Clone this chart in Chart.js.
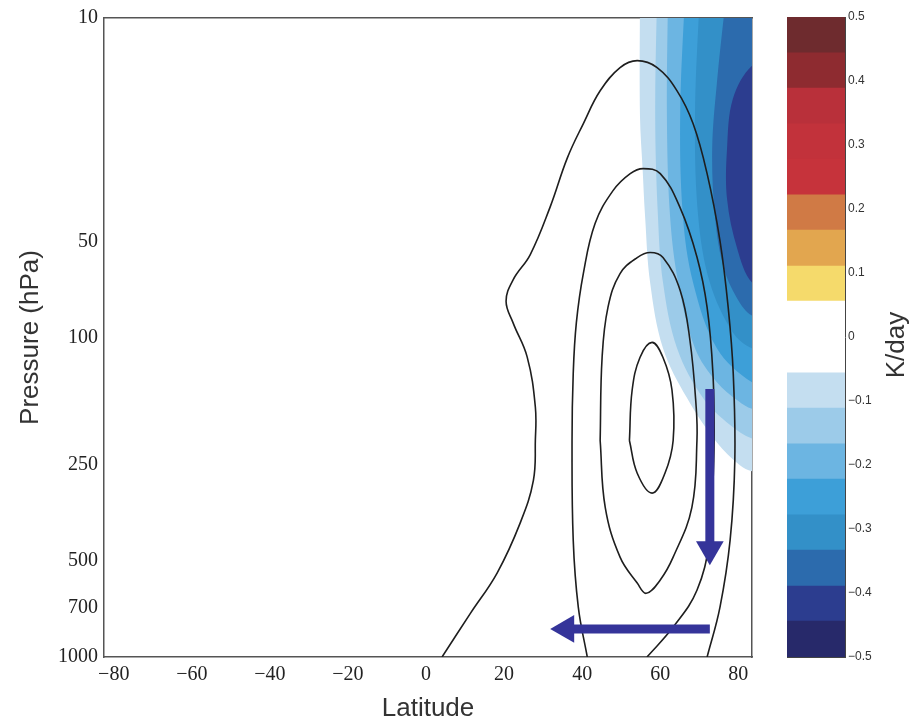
<!DOCTYPE html>
<html>
<head>
<meta charset="utf-8">
<script src="https://cdn.jsdelivr.net/npm/chart.js@4.4.0/dist/chart.umd.min.js"></script>
<style>
  body { margin: 0; background: #fff; }
  #principal { position: absolute; left: 0; top: 0; }
  #barra { position: absolute; left: 775px; top: 0; }
</style>
</head>
<body>
<canvas id="principal" width="775" height="724"></canvas>
<canvas id="barra" width="138" height="724"></canvas>
<script>
const xTicks = [-80, -60, -40, -20, 0, 20, 40, 60, 80]
const yTicks = [10, 50, 100, 250, 500, 700, 1000]

// contornos (latitude, pressao em hPa)
const contornoA_lat = [4.1, 11.4, 18.2, 24.1, 27.5, 28.0, 28.0, 25.9, 22.3, 20.5, 22.3, 26.7, 31.8, 36.2, 40.3, 44.6, 49.7, 54.1, 59.2, 64.3, 68.4, 72.0, 75.3, 77.4, 78.7, 79.1, 77.9, 75.3, 72.0]
const contornoA_p = [1000, 729, 546, 381, 280, 210, 165, 115, 90, 77, 66, 55, 39, 27.4, 21.4, 16.9, 14.3, 13.6, 14.3, 16.9, 21.4, 30.7, 49.8, 80.5, 130, 242, 430, 698, 1000]

const contornoB_lat = [41.3, 39.0, 37.7, 37.4, 37.7, 38.5, 40.3, 43.3, 47.9, 52.3, 55.6, 60.0, 65.1, 69.4, 72.0, 73.5, 73.8, 73.3, 72.7, 69.4, 63.3, 56.6]
const contornoB_p = [1000, 698, 430, 210, 130, 90, 63, 44, 34.7, 30.7, 29.6, 30.7, 39.3, 56, 80.5, 130, 210, 323, 430, 618, 806, 1000]

const contornoC_lat = [44.6, 45.9, 49.7, 54.1, 56.4, 60.0, 63.3, 68.1, 69.4, 69.2, 67.6, 65.1, 60.7, 57.4, 54.1, 49.7, 46.6, 45.1, 44.6]
const contornoC_p = [210, 340, 487, 587, 632, 574, 487, 340, 210, 165, 102, 71.3, 56.2, 54.2, 56.2, 63.1, 80.5, 115.5, 210]

const contornoD_lat = [52.1, 54.1, 57.9, 61.2, 63.3, 63.0, 60.7, 57.9, 54.8, 52.8, 52.1]
const contornoD_p = [210, 266, 307, 266, 210, 146, 115.5, 103.6, 115.5, 146, 210]

// faixas de resfriamento, da mais fraca (-0.056) para a mais forte (-0.389)
const faixa1 = [[54.8, 8], [54.8, 20.2], [55.5, 30], [56.1, 41.6], [57.4, 67.3], [60.7, 108], [66.9, 155], [74.5, 213], [80.4, 251], [83.5, 262], [88, 262], [88, 8]]
const faixa2 = [[59.2, 8], [58.7, 20.2], [59.4, 41.6], [60.7, 67.3], [64.3, 108], [71.0, 155], [77.9, 188], [83.5, 207], [88, 207], [88, 8]]
const faixa3 = [[62.0, 8], [61.7, 20.2], [62.5, 41.6], [64.6, 67.3], [68.9, 108], [74.5, 138], [80.0, 158], [83.5, 167], [88, 167], [88, 8]]
const faixa4 = [[66.4, 8], [65.1, 20.2], [65.8, 41.6], [68.4, 67.3], [74.5, 108], [83.5, 138], [88, 138], [88, 8]]
const faixa5 = [[70.2, 8], [68.9, 20.2], [69.7, 41.6], [72.7, 67.3], [78.6, 96.4], [83.5, 108], [88, 108], [88, 8]]
const faixa6 = [[77.1, 8], [74.5, 16], [73.3, 25.7], [74.0, 41.6], [76.1, 59.6], [79.7, 75.5], [83.5, 85.4], [88, 85.4], [88, 8]]
const faixa7 = [[88, 14.1], [83.5, 14.1], [78.6, 17.9], [77.1, 25.7], [77.1, 36.8], [79.7, 52.7], [83.5, 67.3], [88, 67.3]]
const coresFaixas = ['#c4def0', '#9ccbe9', '#6cb5e2', '#3d9fd8', '#3390c8', '#2c6bad', '#2c3d8f']

// setas
const setaDescida_lat = [72.7, 72.7]
const setaDescida_p = [145, 460]
const setaRetorno_lat = [72.7, 35.9]
const setaRetorno_p = [817, 817]

// barra de cores
const barraNiveis = [-0.5, -0.444, -0.389, -0.333, -0.278, -0.222, -0.167, -0.111, -0.056, 0.056, 0.111, 0.167, 0.222, 0.278, 0.333, 0.389, 0.444, 0.5]
const barraCores = ['#27296a', '#2c3d8f', '#2c6bad', '#3390c8', '#3d9fd8', '#6cb5e2', '#9ccbe9', '#c4def0', '#ffffff', '#f5da6b', '#e2a64f', '#d07a45', '#c6333b', '#c2323b', '#b9303a', '#8e2b30', '#6e2b2e']
const barraTicks = [-0.5, -0.4, -0.3, -0.2, -0.1, 0, 0.1, 0.2, 0.3, 0.4, 0.5]

function pontos(lats, ps) {
  return lats.map(function (lat, i) { return { x: lat, y: ps[i] } })
}
function pares(lista) {
  return lista.map(function (par) { return { x: par[0], y: par[1] } })
}
function menos(v) {
  return v < 0 ? '\u2212' + Math.abs(v) : String(v)
}

var conjuntos = []
var faixas = [faixa1, faixa2, faixa3, faixa4, faixa5, faixa6, faixa7]
faixas.forEach(function (faixa, i) {
  conjuntos.push({
    data: pares(faixa),
    showLine: true,
    fill: 'shape',
    backgroundColor: coresFaixas[i],
    borderWidth: 0,
    pointRadius: 0,
    tension: 0.35,
    order: 20 - i
  })
})

var contornos = [
  pontos(contornoA_lat, contornoA_p),
  pontos(contornoB_lat, contornoB_p),
  pontos(contornoC_lat, contornoC_p),
  pontos(contornoD_lat, contornoD_p)
]
contornos.forEach(function (c) {
  conjuntos.push({
    data: c,
    showLine: true,
    fill: false,
    borderColor: '#1e1e1e',
    borderWidth: 1.6,
    pointRadius: 0,
    tension: 0.4,
    order: 5
  })
})

var corSeta = '#35349a'
conjuntos.push({
  data: pontos(setaDescida_lat, setaDescida_p),
  showLine: true,
  borderColor: corSeta,
  borderWidth: 9,
  borderCapStyle: 'butt',
  pointRadius: [0, 16],
  pointStyle: 'triangle',
  pointRotation: 180,
  pointBackgroundColor: corSeta,
  pointBorderWidth: 0,
  order: 1
})
conjuntos.push({
  data: pontos(setaRetorno_lat, setaRetorno_p),
  showLine: true,
  borderColor: corSeta,
  borderWidth: 9,
  borderCapStyle: 'butt',
  pointRadius: [0, 16],
  pointStyle: 'triangle',
  pointRotation: 270,
  pointBackgroundColor: corSeta,
  pointBorderWidth: 0,
  order: 1
})

var borda = { display: true, color: '#555', width: 1.5 }
var semGrade = { display: false, drawTicks: false }

const grafico = new Chart(document.getElementById('principal'), {
  type: 'scatter',
  data: { datasets: conjuntos },
  options: {
    responsive: false,
    animation: false,
    devicePixelRatio: 1,
    layout: { padding: { left: 0, top: 17, right: 23, bottom: 0 } },
    plugins: { legend: { display: false }, tooltip: { enabled: false } },
    scales: {
      x: {
        type: 'linear',
        min: -82.5,
        max: 83.5,
        grid: semGrade,
        border: borda,
        afterBuildTicks: function (eixo) { eixo.ticks = xTicks.map(function (v) { return { value: v } }) },
        afterFit: function (eixo) { eixo.height = 67 },
        ticks: {
          padding: 6,
          color: '#222',
          maxRotation: 0,
          autoSkip: false,
          font: { family: 'Liberation Serif', size: 20 },
          callback: function (v) { return menos(v) }
        },
        title: {
          display: true,
          text: 'Latitude',
          color: '#333',
          padding: { top: 0, bottom: 0 },
          font: { family: 'Liberation Sans', size: 26 }
        }
      },
      x2: {
        type: 'linear',
        position: 'top',
        min: -82.5,
        max: 83.5,
        grid: semGrade,
        border: borda,
        ticks: { display: false },
        afterFit: function (eixo) { eixo.height = 0 }
      },
      y: {
        type: 'logarithmic',
        reverse: true,
        min: 10,
        max: 1000,
        grid: semGrade,
        border: borda,
        afterBuildTicks: function (eixo) { eixo.ticks = yTicks.map(function (v) { return { value: v } }) },
        afterFit: function (eixo) { eixo.width = 104 },
        ticks: {
          padding: 6,
          color: '#222',
          autoSkip: false,
          font: { family: 'Liberation Serif', size: 20 },
          callback: function (v) { return String(v) }
        },
        title: {
          display: true,
          text: 'Pressure (hPa)',
          color: '#333',
          padding: { top: 15, bottom: 0 },
          font: { family: 'Liberation Sans', size: 26 }
        }
      },
      y2: {
        type: 'logarithmic',
        position: 'right',
        reverse: true,
        min: 10,
        max: 1000,
        grid: semGrade,
        border: borda,
        ticks: { display: false },
        afterFit: function (eixo) { eixo.width = 0 }
      }
    }
  }
})

// titulo da barra de cores, lido de baixo para cima
const tituloBarra = {
  id: 'tituloBarra',
  afterDraw: function (chart) {
    var ctx = chart.ctx
    var area = chart.chartArea
    ctx.save()
    ctx.translate(122, (area.top + area.bottom) / 2 + 8)
    ctx.rotate(-Math.PI / 2)
    ctx.font = '26px "Liberation Sans"'
    ctx.fillStyle = '#333'
    ctx.textAlign = 'center'
    ctx.textBaseline = 'middle'
    ctx.fillText('K/day', 0, 0)
    ctx.restore()
  }
}

var faixasBarra = barraCores.map(function (cor, i) {
  return {
    data: [[barraNiveis[i], barraNiveis[i + 1]]],
    backgroundColor: cor,
    borderWidth: 0,
    barPercentage: 1,
    categoryPercentage: 1,
    grouped: false
  }
})

var bordaBarra = { display: true, color: '#444', width: 1 }

const barra = new Chart(document.getElementById('barra'), {
  type: 'bar',
  data: { labels: [''], datasets: faixasBarra },
  options: {
    responsive: false,
    animation: false,
    devicePixelRatio: 1,
    layout: { padding: { left: 12, top: 17, right: 0, bottom: 0 } },
    plugins: { legend: { display: false }, tooltip: { enabled: false } },
    scales: {
      x: {
        grid: semGrade,
        border: bordaBarra,
        ticks: { display: false },
        afterFit: function (eixo) { eixo.height = 67 }
      },
      x2: {
        type: 'category',
        position: 'top',
        grid: semGrade,
        border: bordaBarra,
        ticks: { display: false },
        afterFit: function (eixo) { eixo.height = 0 }
      },
      y: {
        position: 'right',
        min: -0.5,
        max: 0.5,
        grid: semGrade,
        border: bordaBarra,
        afterBuildTicks: function (eixo) { eixo.ticks = barraTicks.map(function (v) { return { value: v } }) },
        afterFit: function (eixo) { eixo.width = 68 },
        ticks: {
          padding: 3,
          color: '#333',
          font: { family: 'Liberation Sans', size: 12 },
          callback: function (v) { return v == 0 ? '0' : menos(Number(v.toFixed(1))) }
        }
      },
      y2: {
        position: 'left',
        min: -0.5,
        max: 0.5,
        grid: semGrade,
        border: bordaBarra,
        ticks: { display: false },
        afterFit: function (eixo) { eixo.width = 0 }
      }
    }
  },
  plugins: [tituloBarra]
})
</script>
</body>
</html>
